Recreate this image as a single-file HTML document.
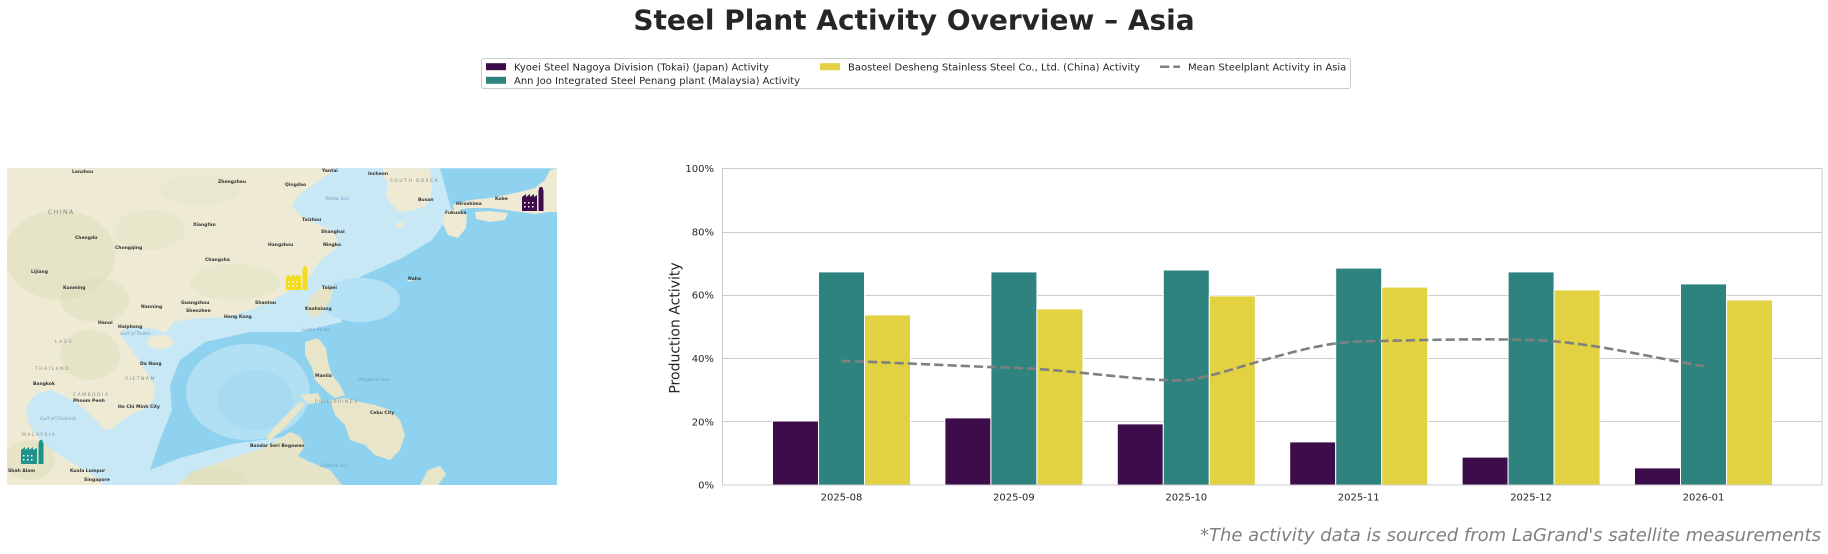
<!DOCTYPE html>
<html>
<head>
<meta charset="utf-8">
<style>
  html, body { margin:0; padding:0; background:#ffffff; }
  body { width:1828px; height:554px; overflow:hidden; }
  svg { display:block; }
  text { font-family: "DejaVu Sans", "Liberation Sans", sans-serif; }
</style>
</head>
<body>
<svg width="1828" height="554" viewBox="0 0 1828 554" xmlns="http://www.w3.org/2000/svg">
  <rect x="0" y="0" width="1828" height="554" fill="#ffffff"/>

  <!-- Title -->
  <text x="914" y="29.3" text-anchor="middle" font-size="28" font-weight="bold" fill="#262626">Steel Plant Activity Overview – Asia</text>

  <!-- Legend -->
  <rect x="481.5" y="58.5" width="869" height="30" rx="2" ry="2" fill="#ffffff" stroke="#cccccc" stroke-width="1"/>
  <rect x="486" y="63.2" width="20" height="7" fill="#3d0c4a"/>
  <text x="514" y="70.3" font-size="10" fill="#262626">Kyoei Steel Nagoya Division (Tokai) (Japan) Activity</text>
  <rect x="486" y="76.8" width="20" height="7" fill="#2f837f"/>
  <text x="514" y="83.9" font-size="10" fill="#262626">Ann Joo Integrated Steel Penang plant (Malaysia) Activity</text>
  <rect x="820" y="63.2" width="20" height="7" fill="#e2d140"/>
  <text x="848" y="70.3" font-size="10" fill="#262626">Baosteel Desheng Stainless Steel Co., Ltd. (China) Activity</text>
  <line x1="1160" y1="66.7" x2="1180" y2="66.7" stroke="#808080" stroke-width="2.5" stroke-dasharray="9.25 4"/>
  <text x="1188" y="70.3" font-size="10" fill="#262626">Mean Steelplant Activity in Asia</text>

  <!-- ================= MAP ================= -->
  <defs>
    <clipPath id="mc"><rect x="7" y="168.3" width="550" height="316.7"/></clipPath>
  </defs>
  <g clip-path="url(#mc)">
    <rect x="7" y="168" width="550" height="317" fill="#8fd2ef"/>
    <path d="M290,168 L440,168 L452,212 L432,240 L402,258 L362,276 L340,292 L342,322 L300,332 L250,332 L205,342 L180,360 L170,385 L172,410 L160,440 L150,470 L180,458 L232,444 L290,436 L302,470 L262,485 L7,485 L7,168 Z" fill="#c8e8f5"/>
    <ellipse cx="248" cy="392" rx="62" ry="48" fill="#b2e0f3"/>
    <ellipse cx="255" cy="400" rx="38" ry="30" fill="#a6dbf1"/>
    <ellipse cx="360" cy="300" rx="40" ry="22" fill="#b4e1f3"/>

    <path d="M7,168 L333,168 L330,173 L318,182 L308,188 L298,196 L292,206 L300,215 L314,222 L326,228 L334,233 L338,241 L335,249 L326,256 L318,263 L313,272 L308,280 L298,287 L288,292 L276,298 L265,304 L250,310 L234,315 L216,318 L198,318 L184,320 L173,322 L168,330 L164,333 L158,330 L150,328 L138,327 L124,329 L121,335 L127,344 L134,353 L141,364 L149,376 L156,389 L153,400 L146,408 L134,413 L122,420 L114,428 L104,430 L96,420 L86,410 L75,402 L62,395 L50,390 L38,393 L30,400 L26,410 L28,422 L34,432 L42,442 L55,452 L70,462 L85,470 L98,478 L103,485 L7,485 Z" fill="#eeead3"/>
    <ellipse cx="60" cy="255" rx="55" ry="45" fill="#d6ddb4" opacity="0.4"/>
    <ellipse cx="95" cy="300" rx="35" ry="22" fill="#d6ddb4" opacity="0.35"/>
    <ellipse cx="90" cy="355" rx="30" ry="25" fill="#d6ddb4" opacity="0.35"/>
    <ellipse cx="235" cy="282" rx="45" ry="18" fill="#dbe1bc" opacity="0.35"/>
    <ellipse cx="150" cy="230" rx="35" ry="20" fill="#dbe1bc" opacity="0.3"/>
    <ellipse cx="200" cy="190" rx="40" ry="15" fill="#dfe3c4" opacity="0.3"/>
    <ellipse cx="30" cy="460" rx="25" ry="20" fill="#d6ddb4" opacity="0.4"/>

    <ellipse cx="160" cy="342" rx="13" ry="7" fill="#eeead3"/>
    <path d="M327,286 L333,290 L330,302 L320,315 L312,318 L306,310 L310,298 L318,290 Z" fill="#e6e4c6"/>
    <path d="M383,168 L430,168 L432,185 L430,200 L425,206 L415,210 L400,212 L392,205 L386,195 L388,185 L384,176 Z" fill="#eeead3"/>
    <ellipse cx="400" cy="225" rx="5" ry="2.5" fill="#eeead3"/>
    <path d="M445,212 L458,208 L467,215 L466,228 L458,238 L448,235 L443,224 Z" fill="#eeead3"/>
    <path d="M452,205 L470,200 L490,198 L505,195 L520,192 L535,188 L545,180 L550,170 L557,168 L557,212 L548,212 L535,214 L520,212 L505,210 L490,208 L470,208 L455,210 Z" fill="#eeead3"/>
    <path d="M475,212 L490,211 L508,213 L505,220 L490,222 L476,219 Z" fill="#eeead3"/>
    <ellipse cx="410" cy="280" rx="3" ry="1.5" fill="#eeead3"/>
    <path d="M305,342 L318,338 L326,348 L328,362 L332,375 L340,385 L345,395 L335,398 L325,390 L315,380 L312,368 L305,355 Z" fill="#e8e5c8"/>
    <path d="M300,395 L318,393 L322,402 L308,404 Z" fill="#e8e5c8"/>
    <path d="M330,400 L345,398 L360,402 L375,405 L390,410 L400,420 L405,435 L400,450 L390,460 L375,455 L365,445 L350,440 L345,425 L335,415 Z" fill="#e8e5c8"/>
    <path d="M300,402 L305,404 L287,425 L270,441 L266,437 L283,418 Z" fill="#e8e5c8"/>
    <path d="M175,485 L198,470 L220,462 L240,455 L258,450 L275,442 L290,432 L300,436 L305,446 L298,456 L310,462 L330,470 L342,485 Z" fill="#e6e4c6"/>
    <ellipse cx="215" cy="478" rx="30" ry="10" fill="#d6ddb4" opacity="0.4"/>
    <path d="M420,485 L428,470 L440,466 L446,474 L438,485 Z" fill="#e8e5c8"/>

    <g font-size="6" fill="#8a8a8a" letter-spacing="1.5">
      <text x="48" y="214">CHINA</text>
      <text x="390" y="182" font-size="4.5">SOUTH KOREA</text>
      <text x="35" y="370" font-size="4.5">THAILAND</text>
      <text x="125" y="380" font-size="4.5">VIETNAM</text>
      <text x="73" y="396" font-size="4.5">CAMBODIA</text>
      <text x="55" y="343" font-size="4.5">LAOS</text>
      <text x="315" y="403" font-size="4.5">PHILIPPINES</text>
      <text x="22" y="436" font-size="4.5">MALAYSIA</text>
    </g>
    <g font-size="4.5" fill="#333333" font-weight="bold">
      <text x="72" y="173">Lanzhou</text>
      <text x="218" y="183">Zhengzhou</text>
      <text x="285" y="186">Qingdao</text>
      <text x="322" y="172">Yantai</text>
      <text x="75" y="239">Chengdu</text>
      <text x="115" y="249">Chongqing</text>
      <text x="193" y="226">Xiangfan</text>
      <text x="302" y="221">Taizhou</text>
      <text x="321" y="233">Shanghai</text>
      <text x="268" y="246">Hangzhou</text>
      <text x="323" y="246">Ningbo</text>
      <text x="205" y="261">Changsha</text>
      <text x="31" y="273">Lijiang</text>
      <text x="63" y="289">Kunming</text>
      <text x="322" y="289">Taipei</text>
      <text x="305" y="310">Kaohsiung</text>
      <text x="141" y="308">Nanning</text>
      <text x="181" y="304">Guangzhou</text>
      <text x="186" y="312">Shenzhen</text>
      <text x="224" y="318">Hong Kong</text>
      <text x="255" y="304">Shantou</text>
      <text x="98" y="324">Hanoi</text>
      <text x="118" y="328">Haiphong</text>
      <text x="140" y="365">Da Nang</text>
      <text x="33" y="385">Bangkok</text>
      <text x="73" y="402">Phnom Penh</text>
      <text x="118" y="408">Ho Chi Minh City</text>
      <text x="315" y="377">Manila</text>
      <text x="370" y="414">Cebu City</text>
      <text x="408" y="280">Naha</text>
      <text x="368" y="175">Incheon</text>
      <text x="418" y="201">Busan</text>
      <text x="456" y="205">Hiroshima</text>
      <text x="445" y="214">Fukuoka</text>
      <text x="495" y="200">Kobe</text>
      <text x="250" y="447">Bandar Seri Begawan</text>
      <text x="70" y="472">Kuala Lumpur</text>
      <text x="84" y="481">Singapore</text>
      <text x="8" y="472">Shah Alam</text>
    </g>
    <g font-size="4.5" fill="#6f9fc0" font-style="italic">
      <text x="325" y="200">Yellow Sea</text>
      <text x="120" y="335">Gulf of Tonkin</text>
      <text x="40" y="420">Gulf of Thailand</text>
      <text x="358" y="381">Philippine Sea</text>
      <text x="320" y="467">Celebes Sea</text>
      <text x="302" y="331">Luzon Strait</text>
    </g>

    <g fill="#3d0c4a">
      <path d="M522,211 L522,197 L526,194 L526,197 L530,194 L530,197 L534,194 L534,197 L537,195 L537,211 Z"/>
      <rect x="538.5" y="190" width="5" height="21"/>
      <circle cx="541" cy="189" r="2"/>
    </g>
    <g fill="#ffffff"><rect x="524" y="202" width="1.5" height="1.5"/><rect x="528" y="202" width="1.5" height="1.5"/><rect x="532" y="202" width="1.5" height="1.5"/><rect x="524" y="206" width="1.5" height="1.5"/><rect x="528" y="206" width="1.5" height="1.5"/><rect x="532" y="206" width="1.5" height="1.5"/></g>
    <g fill="#f3dc1f">
      <path d="M286,290 L286,277 L290,274 L290,277 L294,274 L294,277 L298,274 L298,277 L301,275 L301,290 Z"/>
      <rect x="302.5" y="269" width="5" height="21"/>
      <circle cx="305" cy="268" r="2"/>
    </g>
    <g fill="#ffffff" opacity="0.7"><rect x="288" y="281" width="1.5" height="1.5"/><rect x="292" y="281" width="1.5" height="1.5"/><rect x="296" y="281" width="1.5" height="1.5"/><rect x="288" y="285" width="1.5" height="1.5"/><rect x="292" y="285" width="1.5" height="1.5"/><rect x="296" y="285" width="1.5" height="1.5"/></g>
    <g fill="#21918c">
      <path d="M21,464 L21,450 L25,447 L25,450 L29,447 L29,450 L33,447 L33,450 L37,448 L37,464 Z"/>
      <rect x="38.5" y="443" width="5" height="21"/>
      <circle cx="41" cy="442" r="2"/>
    </g>
    <g fill="#ffffff"><rect x="23" y="455" width="1.5" height="1.5"/><rect x="27" y="455" width="1.5" height="1.5"/><rect x="31" y="455" width="1.5" height="1.5"/><rect x="23" y="459" width="1.5" height="1.5"/><rect x="27" y="459" width="1.5" height="1.5"/><rect x="31" y="459" width="1.5" height="1.5"/></g>
  </g>

  <!-- ================= BAR CHART ================= -->
  <g stroke="#cccccc" stroke-width="1" shape-rendering="crispEdges">
    <line x1="722" y1="421.5" x2="1822" y2="421.5"/>
    <line x1="722" y1="358.5" x2="1822" y2="358.5"/>
    <line x1="722" y1="295.5" x2="1822" y2="295.5"/>
    <line x1="722" y1="232.5" x2="1822" y2="232.5"/>
  </g>

  <g stroke="#ffffff" stroke-width="1">
    <rect x="772.5" y="421.0" width="46" height="64.0" fill="#3d0c4a"/>
    <rect x="818.5" y="271.9" width="46" height="213.1" fill="#2f837f"/>
    <rect x="864.5" y="314.9" width="46" height="170.1" fill="#e2d140"/>
    <rect x="944.9" y="417.9" width="46" height="67.1" fill="#3d0c4a"/>
    <rect x="990.9" y="271.9" width="46" height="213.1" fill="#2f837f"/>
    <rect x="1036.9" y="308.9" width="46" height="176.1" fill="#e2d140"/>
    <rect x="1117.3" y="423.9" width="46" height="61.1" fill="#3d0c4a"/>
    <rect x="1163.3" y="270.0" width="46" height="215.0" fill="#2f837f"/>
    <rect x="1209.3" y="295.9" width="46" height="189.1" fill="#e2d140"/>
    <rect x="1289.7" y="441.9" width="46" height="43.1" fill="#3d0c4a"/>
    <rect x="1335.7" y="268.1" width="46" height="216.9" fill="#2f837f"/>
    <rect x="1381.7" y="287.1" width="46" height="197.9" fill="#e2d140"/>
    <rect x="1462.1" y="457.1" width="46" height="27.9" fill="#3d0c4a"/>
    <rect x="1508.1" y="271.9" width="46" height="213.1" fill="#2f837f"/>
    <rect x="1554.1" y="289.9" width="46" height="195.1" fill="#e2d140"/>
    <rect x="1634.5" y="467.9" width="46" height="17.1" fill="#3d0c4a"/>
    <rect x="1680.5" y="283.9" width="46" height="201.1" fill="#2f837f"/>
    <rect x="1726.5" y="300.0" width="46" height="185.0" fill="#e2d140"/>
  </g>

  <path d="M841.5,360.9 C899,362.6 956.4,366.1 1013.9,367.8 C1071.4,369.5 1150.8,382.5 1186.3,380.2 C1221.8,376.6 1301.2,342.7 1358.7,341.5 C1416.2,340.3 1473.6,338.3 1531.1,340.0 C1588.6,341.7 1646,356.4 1703.5,366.2" fill="none" stroke="#808080" stroke-width="2.6" stroke-dasharray="9.25 4"/>

  <rect x="722.5" y="168.5" width="1099.5" height="316.5" fill="none" stroke="#cccccc" stroke-width="1" shape-rendering="crispEdges"/>

  <g font-size="10" fill="#262626" text-anchor="end">
    <text x="714" y="488.6">0%</text>
    <text x="714" y="425.3">20%</text>
    <text x="714" y="361.9">40%</text>
    <text x="714" y="298.6">60%</text>
    <text x="714" y="235.3">80%</text>
    <text x="714" y="171.9">100%</text>
  </g>
  <g font-size="10" fill="#262626" text-anchor="middle">
    <text x="841.5" y="500.5">2025-08</text>
    <text x="1013.9" y="500.5">2025-09</text>
    <text x="1186.3" y="500.5">2025-10</text>
    <text x="1358.7" y="500.5">2025-11</text>
    <text x="1531.1" y="500.5">2025-12</text>
    <text x="1703.5" y="500.5">2026-01</text>
  </g>
  <text transform="translate(674.3,328) rotate(-90)" x="0" y="5" font-size="14" fill="#262626" text-anchor="middle">Production Activity</text>

  <text x="1821" y="541" font-size="18" font-style="italic" fill="#808080" text-anchor="end">*The activity data is sourced from LaGrand's satellite measurements</text>
</svg>
</body>
</html>
